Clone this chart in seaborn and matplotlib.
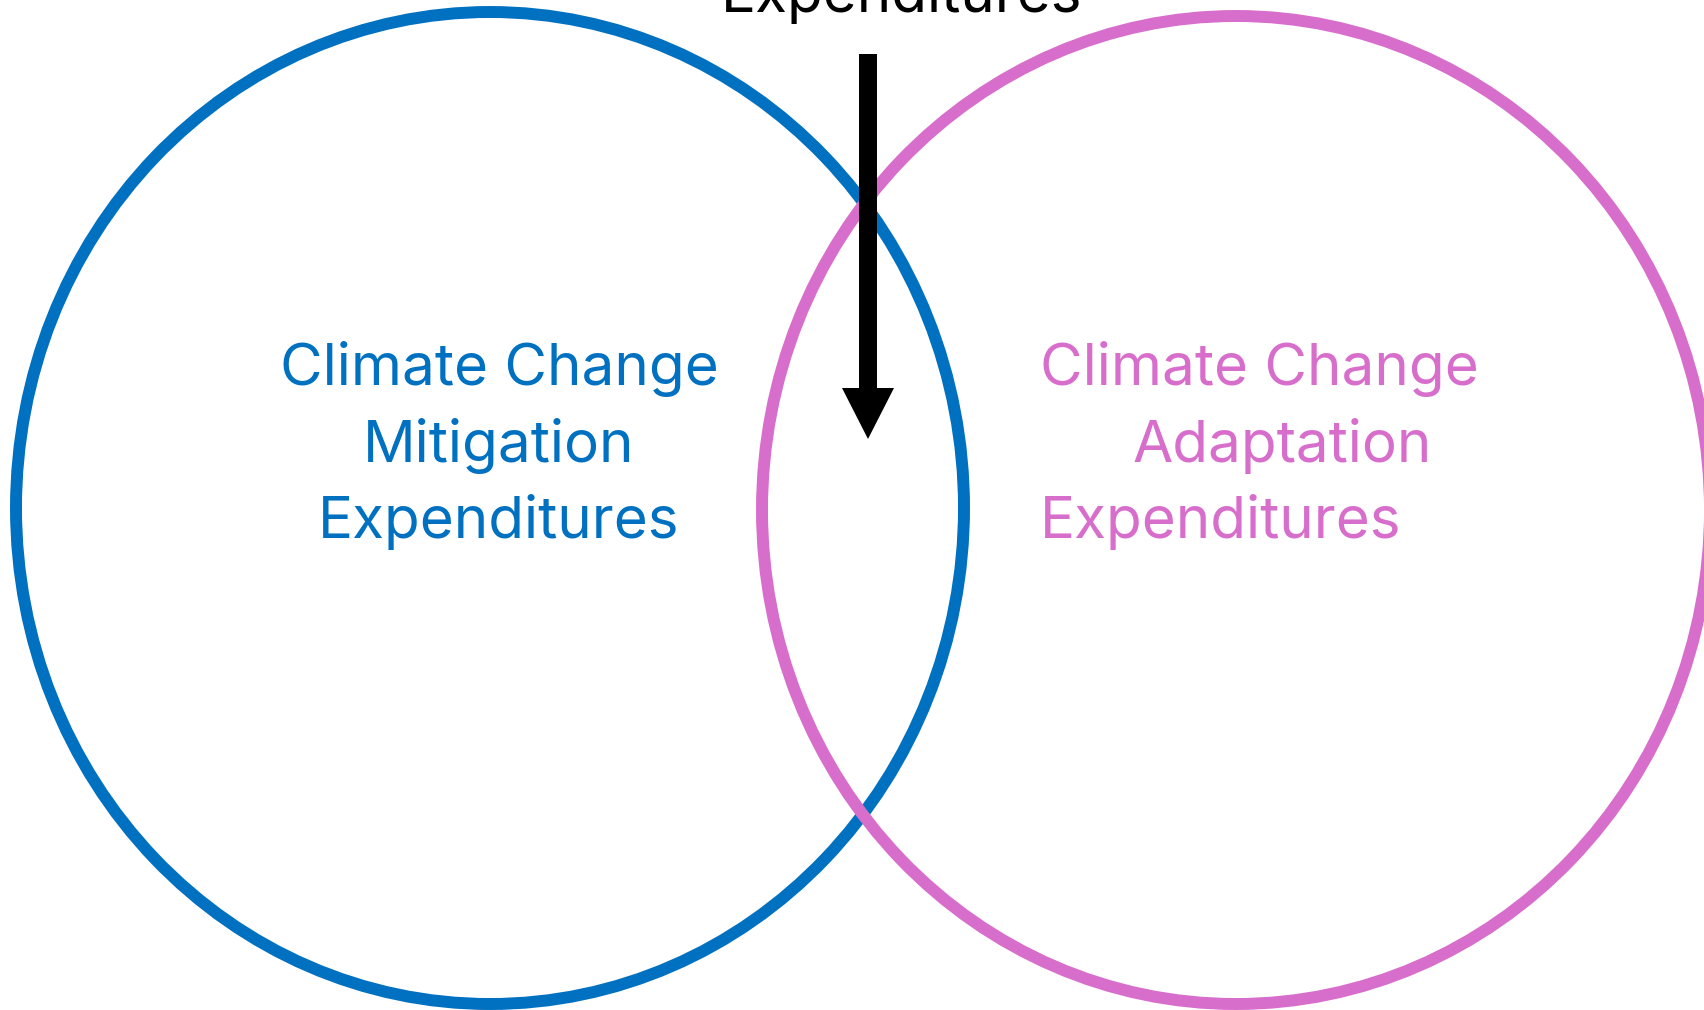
import matplotlib
matplotlib.use("Agg")
import matplotlib.pyplot as plt
import seaborn as sns
from matplotlib.patches import Ellipse

# Diagram content
circle_names = ["Mitigation", "Adaptation"]
circle_colors = ["#0070C0", "#D86ECC"]
mitigation_lines = ["Climate Change", "Mitigation", "Expenditures"]
adaptation_lines = ["Climate Change", "Adaptation", "Expenditures"]
top_label = "Expenditures"

sns.set_theme(style="white")
plt.rcParams['font.family'] = ['Inter', 'DejaVu Sans']

W, H = 1704, 1010
fig = plt.figure(figsize=(W / 100, H / 100), dpi=100)
ax = fig.add_axes([0, 0, 1, 1])
ax.set_xlim(0, W)
ax.set_ylim(H, 0)
ax.axis("off")

# circles (pixel coordinates, y downward)
centers = [(490, 508), (1236, 510)]
radii = [(474, 496), (474, 494)]
for (cx, cy), (rx, ry), col in zip(centers, radii, circle_colors):
    ax.add_patch(Ellipse((cx, cy), 2 * rx, 2 * ry, fill=False,
                         edgecolor=col, linewidth=8.6))

# arrow into the overlap
ax.arrow(868, 54, 0, 385, width=18, head_width=52, head_length=51,
         length_includes_head=True, color="black", linewidth=0)

fs = 42
# left labels, centered
for i, line in enumerate(mitigation_lines):
    ax.text(499, 385 + i * 76.5, line, ha="center", va="baseline",
            fontsize=fs, color=circle_colors[0])

# right labels
right_x = [1040, 1133, 1040]
for i, line in enumerate(adaptation_lines):
    ax.text(right_x[i], 385 + i * 76.5, line, ha="left", va="baseline",
            fontsize=fs, color=circle_colors[1])

# cut-off label at the top
ax.text(902, 12, top_label, ha="center", va="baseline",
        fontsize=fs, color="black")

fig.savefig("out.png", dpi=100)
plt.close(fig)
